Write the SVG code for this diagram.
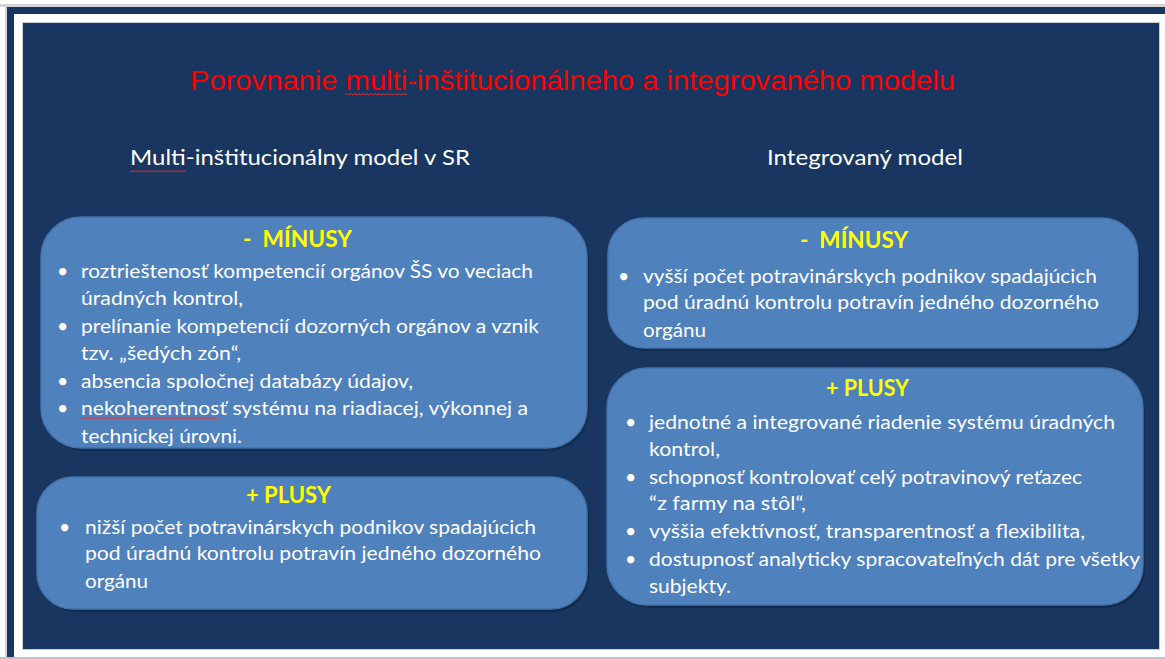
<svg xmlns="http://www.w3.org/2000/svg" width="1165" height="659" viewBox="0 0 1165 659">
<defs>
<style>
.body{font-family:"Lato","Open Sans","Liberation Sans",sans-serif;font-size:19.5px;fill:#ffffff}
.hdr{font-family:"Lato","Open Sans","Liberation Sans",sans-serif;font-size:22px;font-weight:bold;fill:#ffff00}
.sub{font-family:"Lato","Open Sans","Liberation Sans",sans-serif;font-size:22px;fill:#ffffff}
.title{font-family:"Liberation Sans",Arial,sans-serif;font-size:27px;fill:#ff0000}
.box{fill:#4f81bd;stroke:#4673ab;stroke-width:1.5}
.shadow{fill:#0f2645;opacity:0.6}
.squig{fill:none;stroke:#e03030;stroke-width:1}
</style>
</defs>
<rect x="0" y="0" width="1165" height="659" fill="#ffffff"/>
<rect x="0" y="4" width="1165" height="3" fill="#d4d4d4"/>
<rect x="5" y="4" width="2" height="655" fill="#d4d4d4"/>
<rect x="7" y="7" width="1158" height="7" fill="#183660"/>
<rect x="7" y="7" width="7" height="652" fill="#183660"/>
<rect x="0" y="657" width="1165" height="2" fill="#b9c3cf"/>
<rect x="22.5" y="22.5" width="1137" height="627" fill="#183660" stroke="#c8ccd2" stroke-width="1"/>

<g id="title">
<text class="title" x="190" y="90" textLength="765" lengthAdjust="spacingAndGlyphs">Porovnanie multi-inštitucionálneho a integrovaného modelu</text>
<path class="squig" d="M345 95 l2 -1.5 l2 1.5 l2 -1.5 l2 1.5 l2 -1.5 l2 1.5 l2 -1.5 l2 1.5 l2 -1.5 l2 1.5 l2 -1.5 l2 1.5 l2 -1.5 l2 1.5 l2 -1.5 l2 1.5 l2 -1.5 l2 1.5 l2 -1.5 l2 1.5 l2 -1.5 l2 1.5 l2 -1.5 l2 1.5 l2 -1.5 l2 1.5 l2 -1.5 l2 1.5 l2 -1.5 l2 1.5 l2 -1.5"/>
</g>

<g id="subtitle-left">
<text class="sub" x="130" y="165" textLength="340" lengthAdjust="spacingAndGlyphs">Multi-inštitucionálny model v SR</text>
<path class="squig" d="M130 172 l2 -1.5 l2 1.5 l2 -1.5 l2 1.5 l2 -1.5 l2 1.5 l2 -1.5 l2 1.5 l2 -1.5 l2 1.5 l2 -1.5 l2 1.5 l2 -1.5 l2 1.5 l2 -1.5 l2 1.5 l2 -1.5 l2 1.5 l2 -1.5 l2 1.5 l2 -1.5 l2 1.5 l2 -1.5 l2 1.5 l2 -1.5 l2 1.5 l2 -1.5 l2 1.5"/>
</g>
<g id="subtitle-right">
<text class="sub" x="767" y="165" textLength="196" lengthAdjust="spacingAndGlyphs">Integrovaný model</text>
</g>

<g id="left-minus">
<rect class="shadow" x="43" y="220" width="546" height="231" rx="40"/>
<rect class="box" x="41" y="217" width="546" height="231" rx="40"/>
<text class="hdr" x="243" y="247" textLength="109" lengthAdjust="spacingAndGlyphs" xml:space="preserve">-  MÍNUSY</text>
<g class="body">
<text x="57" y="278">•</text>
<text x="81" y="278" textLength="452" lengthAdjust="spacingAndGlyphs">roztrieštenosť kompetencií orgánov ŠS vo veciach</text>
<text x="81" y="305" textLength="162" lengthAdjust="spacingAndGlyphs">úradných kontrol,</text>
<text x="57" y="333">•</text>
<text x="81" y="333" textLength="458" lengthAdjust="spacingAndGlyphs">prelínanie kompetencií dozorných orgánov a vznik</text>
<text x="81" y="360" textLength="160" lengthAdjust="spacingAndGlyphs">tzv. „šedých zón“,</text>
<text x="57" y="388">•</text>
<text x="81" y="388" textLength="332" lengthAdjust="spacingAndGlyphs">absencia spoločnej databázy údajov,</text>
<text x="57" y="415">•</text>
<text x="81" y="415" textLength="447" lengthAdjust="spacingAndGlyphs">nekoherentnosť systému na riadiacej, výkonnej a</text>
<text x="81" y="443" textLength="161" lengthAdjust="spacingAndGlyphs">technickej úrovni.</text>
</g>
<path class="squig" d="M81 419 l2 -1.5 l2 1.5 l2 -1.5 l2 1.5 l2 -1.5 l2 1.5 l2 -1.5 l2 1.5 l2 -1.5 l2 1.5 l2 -1.5 l2 1.5 l2 -1.5 l2 1.5 l2 -1.5 l2 1.5 l2 -1.5 l2 1.5 l2 -1.5 l2 1.5 l2 -1.5 l2 1.5 l2 -1.5 l2 1.5 l2 -1.5 l2 1.5 l2 -1.5 l2 1.5 l2 -1.5 l2 1.5 l2 -1.5 l2 1.5 l2 -1.5 l2 1.5 l2 -1.5 l2 1.5 l2 -1.5 l2 1.5 l2 -1.5 l2 1.5 l2 -1.5 l2 1.5 l2 -1.5 l2 1.5 l2 -1.5 l2 1.5 l2 -1.5 l2 1.5 l2 -1.5 l2 1.5 l2 -1.5 l2 1.5 l2 -1.5 l2 1.5 l2 -1.5 l2 1.5 l2 -1.5 l2 1.5 l2 -1.5 l2 1.5 l2 -1.5 l2 1.5 l2 -1.5 l2 1.5 l2 -1.5 l2 1.5 l2 -1.5 l2 1.5"/>
</g>

<g id="left-plus">
<rect class="shadow" x="39" y="480" width="550" height="132" rx="36"/>
<rect class="box" x="37" y="477" width="550" height="132" rx="36"/>
<text class="hdr" x="246" y="503" textLength="85" lengthAdjust="spacingAndGlyphs">+ PLUSY</text>
<g class="body">
<text x="59" y="534">•</text>
<text x="85" y="534" textLength="451" lengthAdjust="spacingAndGlyphs">nižší počet potravinárskych podnikov spadajúcich</text>
<text x="85" y="560" textLength="456" lengthAdjust="spacingAndGlyphs">pod úradnú kontrolu potravín jedného dozorného</text>
<text x="85" y="588" textLength="63" lengthAdjust="spacingAndGlyphs">orgánu</text>
</g>
</g>

<g id="right-minus">
<rect class="shadow" x="610" y="221" width="530" height="130" rx="36"/>
<rect class="box" x="608" y="218" width="530" height="130" rx="36"/>
<text class="hdr" x="800" y="248" textLength="108" lengthAdjust="spacingAndGlyphs" xml:space="preserve">-  MÍNUSY</text>
<g class="body">
<text x="618" y="283">•</text>
<text x="643" y="283" textLength="454" lengthAdjust="spacingAndGlyphs">vyšší počet potravinárskych podnikov spadajúcich</text>
<text x="643" y="309" textLength="456" lengthAdjust="spacingAndGlyphs">pod úradnú kontrolu potravín jedného dozorného</text>
<text x="643" y="337" textLength="63" lengthAdjust="spacingAndGlyphs">orgánu</text>
</g>
</g>

<g id="right-plus">
<rect class="shadow" x="609" y="371" width="536" height="237" rx="40"/>
<rect class="box" x="607" y="368" width="536" height="237" rx="40"/>
<text class="hdr" x="826" y="396" textLength="83" lengthAdjust="spacingAndGlyphs">+ PLUSY</text>
<g class="body">
<text x="625" y="429">•</text>
<text x="649" y="429" textLength="466" lengthAdjust="spacingAndGlyphs">jednotné a integrované riadenie systému úradných</text>
<text x="649" y="456" textLength="71" lengthAdjust="spacingAndGlyphs">kontrol,</text>
<text x="625" y="484">•</text>
<text x="649" y="484" textLength="433" lengthAdjust="spacingAndGlyphs">schopnosť kontrolovať celý potravinový reťazec</text>
<text x="649" y="510" textLength="157" lengthAdjust="spacingAndGlyphs">“z farmy na stôl“,</text>
<text x="625" y="538">•</text>
<text x="649" y="538" textLength="436" lengthAdjust="spacingAndGlyphs">vyššia efektívnosť, transparentnosť a flexibilita,</text>
<text x="625" y="566">•</text>
<text x="649" y="566" textLength="491" lengthAdjust="spacingAndGlyphs">dostupnosť analyticky spracovateľných dát pre všetky</text>
<text x="649" y="593" textLength="82" lengthAdjust="spacingAndGlyphs">subjekty.</text>
</g>
</g>

<g id="connectors"></g>
</svg>
